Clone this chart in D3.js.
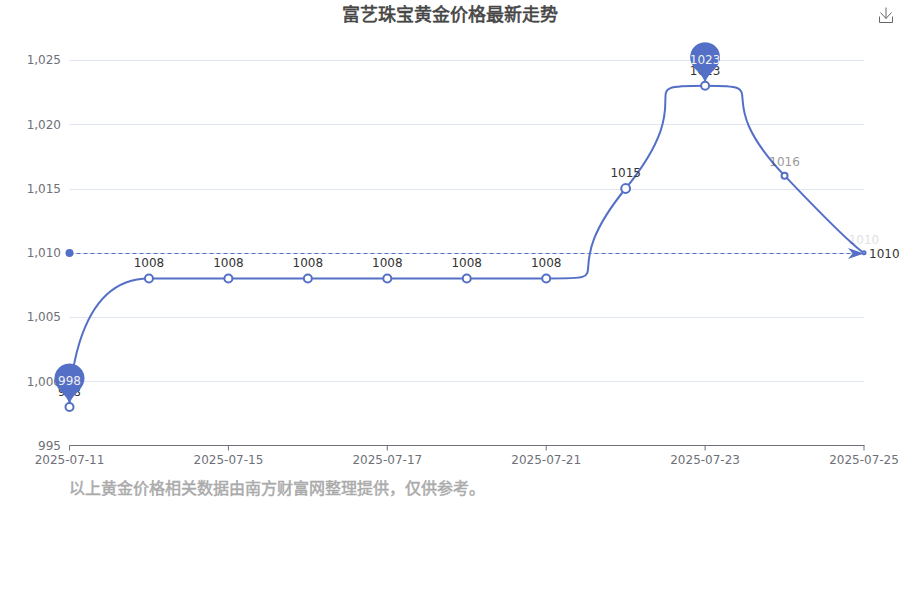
<!DOCTYPE html>
<html><head><meta charset="utf-8">
<script src="https://cdn.jsdelivr.net/npm/d3@7/dist/d3.min.js"></script>
<style>html,body{margin:0;padding:0;background:#fff}svg{display:block}
text{font-family:"DejaVu Sans",sans-serif}
.cjk{font-family:"Noto Sans CJK SC",sans-serif}</style>
</head><body><svg id="c" width="900" height="600"></svg>
<script>
const titleText = "富艺珠宝黄金价格最新走势";
const noteText = "以上黄金价格相关数据由南方财富网整理提供\uFF0C仅供参考。";
const categories = ["2025-07-11","2025-07-14","2025-07-15","2025-07-16","2025-07-17","2025-07-18","2025-07-21","2025-07-22","2025-07-23","2025-07-24","2025-07-25"];
const prices = [998,1008,1008,1008,1008,1008,1008,1015,1023,1016,1010];
const xTickLabels = ["2025-07-11","2025-07-15","2025-07-17","2025-07-21","2025-07-23","2025-07-25"];
const yTicks = [995,1000,1005,1010,1015,1020,1025];
const averageValue = 1010;

const blue="#5470c6", axisC="#6E7079", gridC="#E0E6F1";
const pointStyle={"2025-07-22":{r:4.4,o:1},"2025-07-24":{r:3,o:.5},"2025-07-25":{r:1.5,o:.15}};
const svg=d3.select("#c");
const x=d3.scalePoint().domain(categories).range([69.5,864]);
const y=d3.scaleLinear().domain([995,1025]).range([445.5,60]);

// title / notes (synthetic bold: regular glyphs thickened by a stroke)
svg.append("text").attr("class","cjk").attr("x",450).attr("y",21).attr("text-anchor","middle")
  .attr("font-size",18).attr("fill","#464646").attr("stroke","#464646").attr("stroke-width",0.6).text(titleText);
svg.append("text").attr("class","cjk").attr("x",69).attr("y",494)
  .attr("font-size",16).attr("fill","#aaaaaa").attr("stroke","#aaaaaa").attr("stroke-width",0.5).text(noteText);

// grid
svg.append("g").selectAll("line").data(yTicks.slice(1)).join("line")
  .attr("x1",69.5).attr("x2",864).attr("y1",d=>Math.round(y(d))+.5).attr("y2",d=>Math.round(y(d))+.5)
  .attr("stroke",gridC);

// axes
const yAxis=d3.axisLeft(y).tickValues(yTicks).tickSize(0).tickPadding(8).tickFormat(d3.format(","));
const gy=svg.append("g").attr("transform","translate(69,0)").call(yAxis);
gy.select(".domain").remove();
gy.selectAll("text").attr("fill",axisC).attr("font-size",12).attr("font-family",'"DejaVu Sans",sans-serif');

const xAxis=d3.axisBottom(x).tickValues(xTickLabels).tickSize(5).tickPadding(5);
const gx=svg.append("g").attr("transform","translate(-0.5,445.5)").call(xAxis);
gx.select(".domain").attr("stroke",axisC).attr("d","M70,0H865");
gx.selectAll("line").attr("stroke",axisC);
gx.selectAll("text").attr("fill",axisC).attr("font-size",12).attr("font-family",'"DejaVu Sans",sans-serif');

// ECharts-style smoothing (smooth = 1) as a d3 curve
function smoothCurve(context){
  const pts=[];
  return {
    areaStart(){},areaEnd(){},lineStart(){pts.length=0},
    point(a,b){pts.push([a,b])},
    lineEnd(){
      const s=1;
      context.moveTo(pts[0][0],pts[0][1]);
      let c0=pts[0].slice();
      for(let i=1;i<pts.length;i++){
        const [px,py]=pts[i-1],[cx,cy]=pts[i];
        let n0,cp;
        if(i+1>=pts.length){n0=[cx,cy];cp=[cx,cy];}
        else{
          const [nx,ny]=pts[i+1];
          let vx=nx-px,vy=ny-py;
          const l0=Math.hypot(cx-px,cy-py),l1=Math.hypot(nx-cx,ny-cy);
          const r=l1/(l0+l1);
          let ax=cx+vx*s*r,ay=cy+vy*s*r;
          ax=Math.max(Math.min(ax,Math.max(nx,cx)),Math.min(nx,cx));
          ay=Math.max(Math.min(ay,Math.max(ny,cy)),Math.min(ny,cy));
          vx=ax-cx;vy=ay-cy;
          let bx=cx-vx*l0/l1,by=cy-vy*l0/l1;
          bx=Math.max(Math.min(bx,Math.max(px,cx)),Math.min(px,cx));
          by=Math.max(Math.min(by,Math.max(py,cy)),Math.min(py,cy));
          vx=cx-bx;vy=cy-by;
          cp=[bx,by];
          n0=[cx+vx*l1/l0,cy+vy*l1/l0];
        }
        context.bezierCurveTo(c0[0],c0[1],cp[0],cp[1],cx,cy);
        c0=n0;
      }
    }
  };
}
const rows=categories.map((c,i)=>{const st=pointStyle[c]||{r:4,o:1};return {c,v:prices[i],r:st.r,o:st.o};});
const line=d3.line().x(d=>x(d.c)).y(d=>y(d.v)).curve(smoothCurve);
svg.append("path").datum(rows).attr("d",line).attr("fill","none").attr("stroke",blue).attr("stroke-width",2);

// average mark line
const ay=Math.round(y(averageValue))+.5;
svg.append("line").attr("x1",x.range()[0]).attr("x2",x.range()[1]-8).attr("y1",ay).attr("y2",ay)
  .attr("stroke",blue).attr("stroke-dasharray","4 3").attr("stroke-width",1);
svg.append("circle").attr("cx",x.range()[0]).attr("cy",ay-.5).attr("r",4).attr("fill",blue);
const tipX=x.range()[1];
svg.append("path").attr("fill",blue)
  .attr("d",d3.line()([[tipX,ay],[tipX-16,ay+5.5],[tipX-11.5,ay],[tipX-16,ay-5.5]])+"Z");
svg.append("text").attr("x",tipX+5).attr("y",ay).attr("dy","0.35em").attr("font-size",12).attr("fill","#333").text(averageValue);

// data labels
svg.append("g").selectAll("text").data(rows).join("text")
  .attr("x",d=>x(d.c)).attr("y",d=>y(d.v)-d.r-7).attr("text-anchor","middle")
  .attr("font-size",12).attr("fill","#333").attr("opacity",d=>d.o).text(d=>d.v);

// pins
function pinPath(px,py,w0,h0){
  const w=w0/5*3,h=Math.max(w,h0),r=w/2,dy=r*r/(h-r),cy=py-h+r+dy;
  const ang=Math.asin(dy/r),dx=Math.cos(ang)*r,tx=Math.sin(ang),ty=Math.cos(ang),c1=r*.6,c2=r*.7;
  const p=d3.path();
  p.moveTo(px-dx,cy+dy);
  p.arc(px,cy,r,Math.PI-ang,Math.PI*2+ang);
  p.bezierCurveTo(px+dx-tx*c1,cy+dy+ty*c1,px,py-c2,px,py);
  p.bezierCurveTo(px,py-c2,px-dx+tx*c1,cy+dy+ty*c1,px-dx,cy+dy);
  p.closePath();
  return {d:p.toString(),cy};
}
const extremes=[rows[d3.leastIndex(rows,(a,b)=>a.v-b.v)],rows[d3.greatestIndex(rows,d=>d.v)]];
extremes.forEach(d=>{
  const pin=pinPath(x(d.c),y(d.v),50,50);
  svg.append("path").attr("d",pin.d).attr("fill",blue);
  svg.append("text").attr("x",x(d.c)).attr("y",pin.cy+2.5).attr("dy","0.35em").attr("text-anchor","middle")
    .attr("font-size",12).attr("fill","#eee").text(d.v);
});

// symbols
svg.append("g").selectAll("circle").data(rows).join("circle")
  .attr("cx",d=>x(d.c)).attr("cy",d=>y(d.v)).attr("r",d=>d.r)
  .attr("fill","#fff").attr("stroke",blue).attr("stroke-width",2);

// download icon
svg.append("path").attr("fill","none").attr("stroke","#666").attr("stroke-width",1)
  .attr("d","M879.5,16.5V22.5H892.5V16.5M886,7.5V18.5M880.5,12.5L886,18.5L891.5,12.5");
</script></body></html>
